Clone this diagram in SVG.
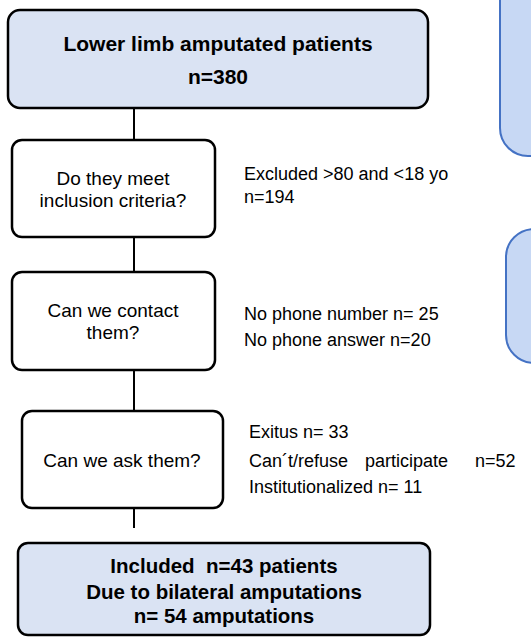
<svg xmlns="http://www.w3.org/2000/svg" width="531" height="637" viewBox="0 0 531 637">
<style>
.main{fill:#dae3f3;stroke:#000;stroke-width:2.5}
.q{fill:#fff;stroke:#000;stroke-width:2.5}
.side{fill:#c7d8f4;stroke:#4472c4;stroke-width:2}
.t{font-family:"Liberation Sans",Arial,sans-serif;font-size:18px;fill:#000}
.c{text-anchor:middle;font-size:19px}
.b{font-weight:bold;font-size:20.5px}
.conn{stroke:#000;stroke-width:2;fill:none}
</style>
<rect width="531" height="637" fill="#fff"/>
<g id="side1"><rect class="side" x="500" y="-40" width="80" height="196" rx="28"/></g>
<g id="side2"><rect class="side" x="506" y="229" width="80" height="134" rx="28"/></g>
<g id="connectors">
<line class="conn" x1="134" y1="108" x2="134" y2="140"/>
<line class="conn" x1="134" y1="237" x2="134" y2="272"/>
<line class="conn" x1="134" y1="370" x2="134" y2="411"/>
<line class="conn" x1="134" y1="508" x2="134" y2="528"/>
</g>
<g id="start">
<rect class="main" x="8" y="10" width="420" height="98" rx="12"/>
<text class="t c b" x="218" y="51" style="font-size:21px">Lower limb amputated patients</text>
<text class="t c b" x="218" y="84" style="font-size:21px">n=380</text>
</g>
<g id="q1">
<rect class="q" x="12" y="140" width="203" height="97" rx="10"/>
<text class="t c" x="113" y="185">Do they meet</text>
<text class="t c" x="113" y="207">inclusion criteria?</text>
</g>
<g id="ex1">
<text class="t" x="244" y="180">Excluded &gt;80 and &lt;18 yo</text>
<text class="t" x="244" y="203">n=194</text>
</g>
<g id="q2">
<rect class="q" x="12" y="272" width="203" height="98" rx="10"/>
<text class="t c" x="113" y="317">Can we contact</text>
<text class="t c" x="113" y="339">them?</text>
</g>
<g id="ex2">
<text class="t" x="244" y="320">No phone number n= 25</text>
<text class="t" x="244" y="346">No phone answer n=20</text>
</g>
<g id="q3">
<rect class="q" x="22" y="411" width="201" height="97" rx="10"/>
<text class="t c" x="122" y="467">Can we ask them?</text>
</g>
<g id="ex3">
<text class="t" x="249" y="438">Exitus n= 33</text>
<text class="t" y="467"><tspan x="249">Can´t/refuse</tspan><tspan x="365">participate</tspan><tspan x="475">n=52</tspan></text>
<text class="t" x="249" y="493">Institutionalized n= 11</text>
</g>
<g id="end">
<rect class="main" x="18" y="543" width="412" height="92" rx="10"/>
<text class="t c b" x="224" y="573" xml:space="preserve">Included  n=43 patients</text>
<text class="t c b" x="224" y="599">Due to bilateral amputations</text>
<text class="t c b" x="224" y="623">n= 54 amputations</text>
</g>
</svg>
